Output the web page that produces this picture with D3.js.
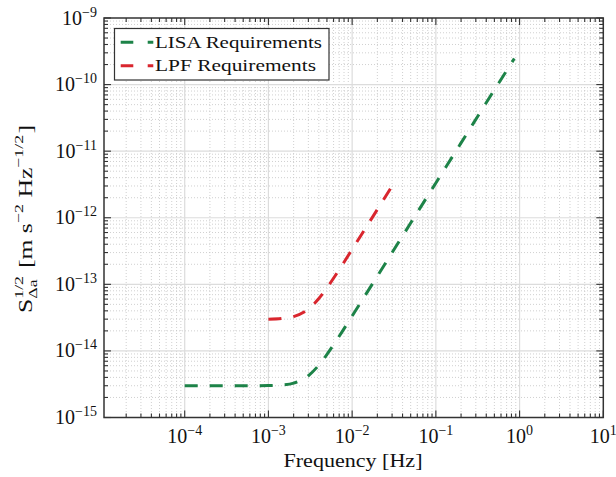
<!DOCTYPE html>
<html><head><meta charset="utf-8">
<script src="https://cdn.jsdelivr.net/npm/d3@7"></script>
<style>
html,body{margin:0;padding:0;background:#fff;}
text{font-family:"Liberation Serif","Times New Roman",serif;fill:#111;}
</style></head>
<body><svg id="chart" width="616" height="477"></svg>
<script>
// ---- data ----
const lisaFreq   = [1e-4, 5e-4, 1e-3, 1.5e-3, 2e-3, 3e-3, 4e-3, 5e-3, 7e-3, 1e-2, 2e-2, 5e-2, 0.1, 0.2, 0.5, 0.865];
const lisaValues = [3.0e-15, 3.0e-15, 3.02e-15, 3.09e-15, 3.28e-15, 4.24e-15, 6.12e-15, 8.86e-15, 1.66e-14, 3.35e-14, 1.33e-13, 8.33e-13, 3.33e-12, 1.33e-11, 8.33e-11, 2.46e-10];
const lpfFreq    = [1e-3, 1.5e-3, 2e-3, 3e-3, 4e-3, 5e-3, 7e-3, 1e-2, 1.5e-2, 2e-2, 3e-2];
const lpfValues  = [3.0e-14, 3.09e-14, 3.28e-14, 4.24e-14, 6.12e-14, 8.86e-14, 1.66e-13, 3.35e-13, 7.5e-13, 1.33e-12, 3.0e-12];
const seriesNames = ["LISA Requirements", "LPF Requirements"];
const seriesColors = ["#1d8348", "#d9262e"];
const xTickExps = [-4, -3, -2, -1, 0, 1];
const yTickExps = [-15, -14, -13, -12, -11, -10, -9];

// ---- layout ----
const svg = d3.select("#chart");
const L = 104, R = 603.3, T = 18, B = 417.5;
const x = d3.scaleLog().domain([Math.pow(10, -4.964), 10]).range([L, R]);
const y = d3.scaleLog().domain([1e-15, 1e-9]).range([B, T]);

function minors(dom) {
  const out = [];
  const lo = Math.floor(Math.log10(dom[0])), hi = Math.ceil(Math.log10(dom[1]));
  for (let e = lo; e < hi; e++) for (let m = 2; m <= 9; m++) {
    const v = m * Math.pow(10, e);
    if (v > dom[0] * 1.0001 && v < dom[1] * 0.9999) out.push(v);
  }
  return out;
}
const xMin = minors(x.domain()), yMin = minors(y.domain());
const xMaj = xTickExps.map(e => Math.pow(10, e)).filter(v => v >= x.domain()[0] && v <= x.domain()[1]);
const yMaj = yTickExps.map(e => Math.pow(10, e));

const grid = svg.append("g");
grid.selectAll(".vmin").data(xMin).join("line")
  .attr("x1", d => x(d)).attr("x2", d => x(d)).attr("y1", T).attr("y2", B)
  .attr("stroke", "#c4c4c4").attr("stroke-width", 0.8).attr("stroke-dasharray", "1,2");
grid.selectAll(".hmin").data(yMin).join("line")
  .attr("y1", d => y(d)).attr("y2", d => y(d)).attr("x1", L).attr("x2", R)
  .attr("stroke", "#c4c4c4").attr("stroke-width", 0.8).attr("stroke-dasharray", "1,2");
grid.selectAll(".vmaj").data(xMaj.slice(0, -1)).join("line")
  .attr("x1", d => x(d)).attr("x2", d => x(d)).attr("y1", T).attr("y2", B)
  .attr("stroke", "#dcdcdc").attr("stroke-width", 1.2);
grid.selectAll(".hmaj").data(yMaj.slice(1, -1)).join("line")
  .attr("y1", d => y(d)).attr("y2", d => y(d)).attr("x1", L).attr("x2", R)
  .attr("stroke", "#dcdcdc").attr("stroke-width", 1.2);

// curves
const line = d3.line().x(d => x(d[0])).y(d => y(d[1])).curve(d3.curveMonotoneX);
const series = [d3.zip(lisaFreq, lisaValues), d3.zip(lpfFreq, lpfValues)];
svg.append("g").selectAll("path").data(series).join("path")
  .attr("d", line).attr("fill", "none")
  .attr("stroke", (d, i) => seriesColors[i]).attr("stroke-width", 3)
  .attr("stroke-dasharray", "13,12");

// axes box and ticks
const ax = svg.append("g").attr("stroke", "#333").attr("stroke-width", 1.1);
ax.append("rect").attr("x", L).attr("y", T).attr("width", R - L).attr("height", B - T)
  .attr("fill", "none").attr("stroke-width", 1.5);
const tk = (data, len, orient) => {
  data.forEach(v => {
    if (orient === "x") {
      ax.append("line").attr("x1", x(v)).attr("x2", x(v)).attr("y1", B).attr("y2", B - len);
      ax.append("line").attr("x1", x(v)).attr("x2", x(v)).attr("y1", T).attr("y2", T + len);
    } else {
      ax.append("line").attr("y1", y(v)).attr("y2", y(v)).attr("x1", L).attr("x2", L + len);
      ax.append("line").attr("y1", y(v)).attr("y2", y(v)).attr("x1", R).attr("x2", R - len);
    }
  });
};
tk(xMin, 4, "x"); tk(xMaj, 7, "x"); tk(yMin, 4, "y"); tk(yMaj, 7, "y");

// tick labels
const xl = svg.append("g");
xTickExps.forEach(e => {
  const t = xl.append("text").attr("x", x(Math.pow(10, e))).attr("y", 443)
    .attr("text-anchor", "middle").style("font-size", "20px");
  t.append("tspan").text("10");
  t.append("tspan").attr("dy", -8).style("font-size", "14px").text(e < 0 ? "\u2212" + (-e) : String(e));
});
const yl = svg.append("g");
yTickExps.forEach(e => {
  const t = yl.append("text").attr("x", 97).attr("y", y(Math.pow(10, e)) + 6.5)
    .attr("text-anchor", "end").style("font-size", "20px");
  t.append("tspan").text("10");
  t.append("tspan").attr("dy", -8).style("font-size", "14px").text("\u2212" + (-e));
});

// x label
svg.append("text").attr("x", 353).attr("y", 467).attr("text-anchor", "middle")
  .style("font-size", "19px").attr("textLength", 139).attr("lengthAdjust", "spacingAndGlyphs")
  .text("Frequency [Hz]");

// y label (rotated, built piecewise)
const gy0 = svg.append("g");
const gy = gy0.append("g");
let cx = 0;
const big = 19.5, small = 13.5;
function piece(txt, size, dy) {
  const t = gy.append("text").attr("x", cx).attr("y", dy).style("font-size", size + "px").text(txt);
  return t.node().getComputedTextLength();
}
cx += piece("S", big, 0);
const wSup = piece("1/2", small, -9);
const wSub = piece("\u0394a", small, 5);
cx += Math.max(wSup, wSub) + 6;
cx += piece("[m s", big, 0);
cx += piece("\u22122", small, -9) + 5;
cx += piece("Hz", big, 0);
cx += piece("\u22121/2", small, -9) + 1;
cx += piece("]", big, 0);
const target = 188;
gy.attr("transform", `scale(${target / cx},1)`);
gy0.attr("transform", `translate(32,${313}) rotate(-90)`);

// legend
const lg = svg.append("g");
lg.append("rect").attr("x", 114.5).attr("y", 28.5).attr("width", 214.5).attr("height", 51.5)
  .attr("fill", "#fff").attr("stroke", "#333").attr("stroke-width", 1.2);
const legendWidths = [167, 161];
seriesNames.forEach((n, i) => {
  const yy = 42.3 + i * 23.4;
  lg.append("line").attr("x1", 120.7).attr("x2", 153.3).attr("y1", yy).attr("y2", yy)
    .attr("stroke", seriesColors[i]).attr("stroke-width", 3).attr("stroke-dasharray", "12.6,14.4");
  lg.append("text").attr("x", 155).attr("y", yy + 5.5).style("font-size", "17px")
    .attr("textLength", legendWidths[i]).attr("lengthAdjust", "spacingAndGlyphs").text(n);
});
</script></body></html>
